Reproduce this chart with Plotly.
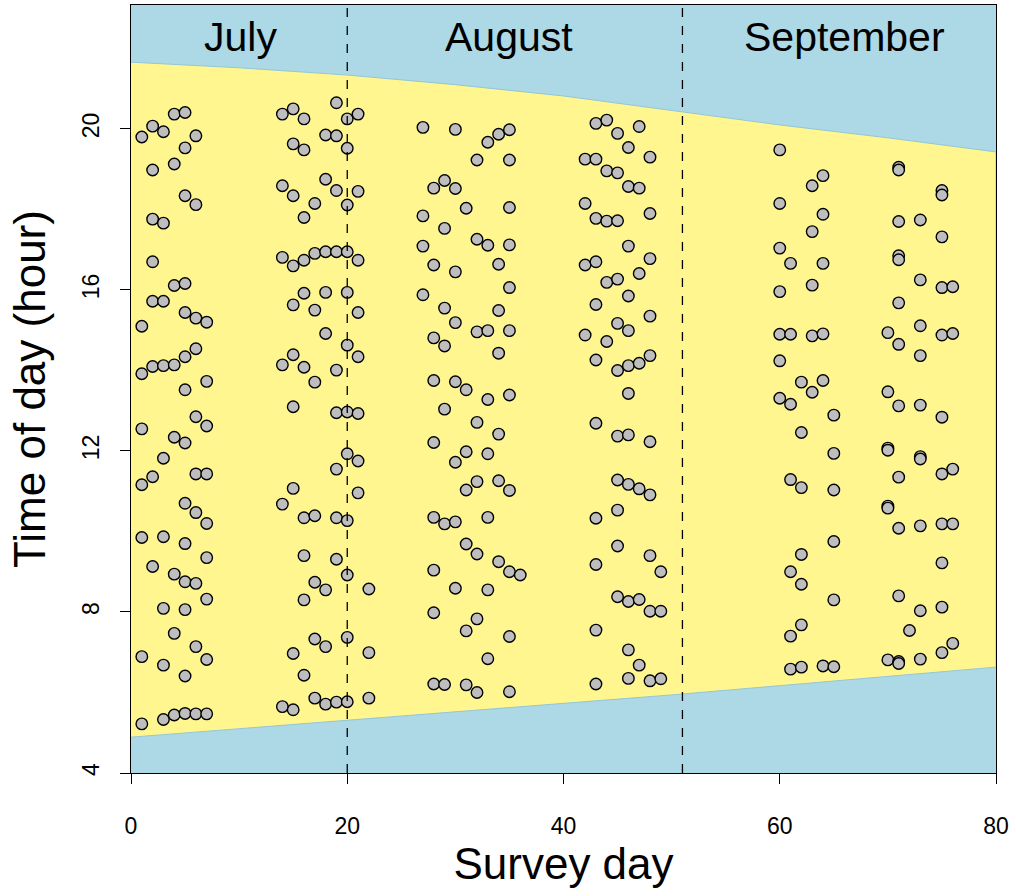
import plotly.graph_objects as go

# ---- survey observations: (survey day, time of day in hours) ----
july_day = ([1] * 8 + [2] * 8 + [3] * 9 + [4] * 8 + [5] * 14 + [6] * 10 + [7] * 9)
july_hour = [
    19.80, 15.10, 13.92, 12.55, 11.16, 9.85, 6.89, 5.22,
    20.07, 18.98, 17.76, 16.70, 15.72, 14.10, 11.36, 9.13,
    19.93, 17.66, 15.72, 14.12, 11.82, 9.87, 8.09, 6.68, 5.33,
    20.37, 19.13, 16.11, 14.14, 12.34, 8.94, 7.47, 5.44,
    20.41, 19.53, 18.34, 16.16, 15.44, 14.34, 13.52, 12.20, 10.70, 9.70, 8.75, 8.06, 6.41, 5.48,
    19.83, 18.12, 15.30, 14.54, 12.85, 11.43, 10.47, 8.71, 7.14, 5.47,
    15.20, 13.73, 12.62, 11.43, 10.20, 9.35, 8.32, 6.82, 5.47,
]

late_july_day = ([14] * 6 + [15] * 10 + [16] * 10 + [17] * 8 + [18] * 8
                 + [19] * 10 + [20] * 12 + [21] * 8 + [22] * 3)
late_july_hour = [
    20.37, 18.59, 16.81, 14.14, 10.68, 5.65,
    20.50, 19.63, 18.34, 16.60, 15.63, 14.39, 13.10, 11.07, 6.97, 5.57,
    20.25, 19.48, 17.80, 16.74, 15.92, 14.08, 10.34, 9.40, 8.30, 6.43,
    18.15, 16.91, 15.50, 13.71, 10.39, 8.74, 7.33, 5.86,
    19.85, 18.75, 16.95, 15.94, 14.92, 8.55, 7.14, 5.71,
    20.65, 19.83, 18.47, 16.95, 14.01, 12.95, 11.55, 10.34, 9.31, 5.76,
    20.25, 19.52, 18.11, 16.95, 15.94, 14.63, 12.97, 11.93, 10.27, 8.92, 7.37, 5.77,
    20.37, 18.45, 16.74, 15.44, 14.34, 12.93, 11.75, 10.96,
    8.57, 6.99, 5.86,
]

early_aug_day = ([27] * 4 + [28] * 9 + [29] * 7 + [30] * 8 + [31] * 7 + [32] * 8
                 + [33] * 8 + [34] * 7 + [35] * 11 + [36] * 1)
early_aug_hour = [
    20.04, 17.84, 17.09, 15.88,
    18.53, 16.62, 14.81, 13.75, 12.21, 10.35, 9.04, 7.98, 6.21,
    18.72, 17.53, 15.55, 14.61, 13.04, 10.19, 6.20,
    19.99, 18.52, 16.45, 15.19, 13.72, 11.72, 10.24, 8.59,
    18.03, 13.52, 11.98, 11.03, 9.69, 7.53, 6.19,
    19.23, 17.26, 14.96, 12.71, 11.24, 9.44, 7.83, 6.00,
    19.67, 17.11, 14.99, 13.28, 11.93, 10.35, 8.55, 6.84,
    19.87, 16.64, 15.49, 14.43, 12.42, 11.26, 9.25,
    19.98, 19.23, 18.05, 17.12, 16.06, 14.99, 13.39, 11.02, 9.00, 7.39, 6.02,
    8.92,
]

late_aug_day = ([42] * 4 + [43] * 11 + [44] * 5 + [45] * 11 + [46] * 12
                + [47] * 7 + [48] * 10 + [49] * 3)
late_aug_hour = [
    19.25, 18.15, 16.62, 14.88,
    20.14, 19.25, 17.78, 16.70, 15.64, 14.26, 12.69, 10.33, 9.18, 7.55, 6.21,
    20.22, 18.96, 17.71, 16.19, 14.72,
    19.89, 18.91, 17.72, 16.27, 15.17, 14.00, 12.37, 11.28, 10.53, 9.64, 8.38,
    19.54, 18.57, 17.09, 15.85, 14.99, 14.12, 13.43, 12.40, 11.17, 8.26, 7.06, 6.35,
    20.06, 18.53, 16.41, 14.18, 11.06, 8.31, 6.68,
    19.30, 17.90, 16.78, 15.35, 14.37, 12.23, 10.91, 9.40, 8.02, 6.29,
    9.00, 8.02, 6.34,
]

early_sep_day = [60] * 7 + [61] * 7 + [62] * 7 + [63] * 5 + [64] * 6 + [65] * 6
early_sep_hour = [
    19.48, 18.15, 17.04, 15.96, 14.90, 14.24, 13.31,
    16.66, 14.90, 13.16, 11.29, 9.00, 7.40, 6.58,
    13.71, 12.46, 11.09, 9.43, 8.69, 7.68, 6.63,
    18.59, 17.45, 16.12, 14.86, 13.46,
    18.84, 17.88, 16.66, 14.91, 13.75, 6.66,
    12.89, 11.94, 11.03, 9.75, 8.30, 6.64,
]

mid_sep_day = [70] * 7 + [71] * 13 + [72] * 1 + [73] * 10 + [75] * 11 + [76] * 5
mid_sep_hour = [
    14.94, 13.47, 12.07, 12.02, 10.63, 10.58, 6.81,
    19.05, 18.98, 17.70, 16.85, 16.75, 15.68, 14.65, 13.12, 11.35, 10.08, 8.40, 6.77, 6.72,
    7.54,
    17.74, 16.25, 15.11, 14.37, 13.14, 11.86, 11.80, 10.14, 8.03, 6.83,
    18.47, 18.36, 17.32, 16.06, 14.88, 12.84, 11.43, 10.19, 9.22, 8.12, 6.99,
    16.08, 14.92, 11.55, 10.19, 7.22,
]

# ---- daylight window (sunrise / sunset, hours) ----
sun_day = [0, 10, 20, 30, 40, 50, 60, 70, 80]
sunrise = [4.89, 5.10, 5.32, 5.52, 5.73, 5.94, 6.17, 6.40, 6.63]
sunset = [21.66, 21.52, 21.34, 21.10, 20.82, 20.46, 20.10, 19.78, 19.43]

# ---- month boundaries and labels ----
month_breaks = [20, 51]
month_names = ["July", "August", "September"]
month_label_day = [10.1, 35.0, 66.0]
month_label_hour = 22.28

x_ticks = [0, 20, 40, 60, 80]
y_ticks = [4, 8, 12, 16, 20]

FONT = "Liberation Sans, Arial, Helvetica, sans-serif"
NIGHT = "#ADD8E6"
DAY = "#FFF68F"

fig = go.Figure()

# daylight band
fig.add_trace(go.Scatter(
    x=sun_day + sun_day[::-1],
    y=sunset + sunrise[::-1],
    fill="toself",
    fillcolor=DAY,
    mode="lines",
    line=dict(color="#93C6D6", width=1),
    hoverinfo="skip",
    showlegend=False,
))

all_day = july_day + late_july_day + early_aug_day + late_aug_day + early_sep_day + mid_sep_day
all_hour = july_hour + late_july_hour + early_aug_hour + late_aug_hour + early_sep_hour + mid_sep_hour

fig.add_trace(go.Scatter(
    x=all_day,
    y=all_hour,
    mode="markers",
    marker=dict(size=11.5, color="#BEBEBE", line=dict(color="black", width=1.4)),
    showlegend=False,
))

for xb in month_breaks:
    fig.add_shape(type="line", x0=xb, x1=xb, y0=0, y1=1, yref="paper",
                  line=dict(color="black", width=1.3, dash="dash"), layer="above")

for name, xd in zip(month_names, month_label_day):
    fig.add_annotation(x=xd, y=month_label_hour, text=name, showarrow=False,
                       font=dict(family=FONT, size=41, color="black"))

fig.update_layout(
    width=1016, height=896,
    margin=dict(l=131, r=20, t=5, b=123),
    paper_bgcolor="white",
    plot_bgcolor=NIGHT,
    font=dict(family=FONT, color="black"),
    xaxis=dict(
        range=[0, 80], tickvals=x_ticks, ticks="outside", ticklen=10, tickwidth=1.3,
        tickcolor="black", showline=True, linecolor="black", linewidth=1.3, mirror=True,
        showgrid=False, zeroline=False, tickfont=dict(size=23),
        ticklabelstandoff=22, automargin=False,
        title=dict(text="Survey day", font=dict(size=44), standoff=8),
    ),
    yaxis=dict(
        range=[4, 23.08], tickvals=y_ticks, ticks="outside", ticklen=10, tickwidth=1.3,
        tickcolor="black", showline=True, linecolor="black", linewidth=1.3, mirror=True,
        showgrid=False, zeroline=False, tickfont=dict(size=23), tickangle=-90,
        ticklabelstandoff=12, automargin=False,
        title=dict(text="Time of day (hour)", font=dict(size=44), standoff=18),
    ),
)

fig.write_html("out.html")
